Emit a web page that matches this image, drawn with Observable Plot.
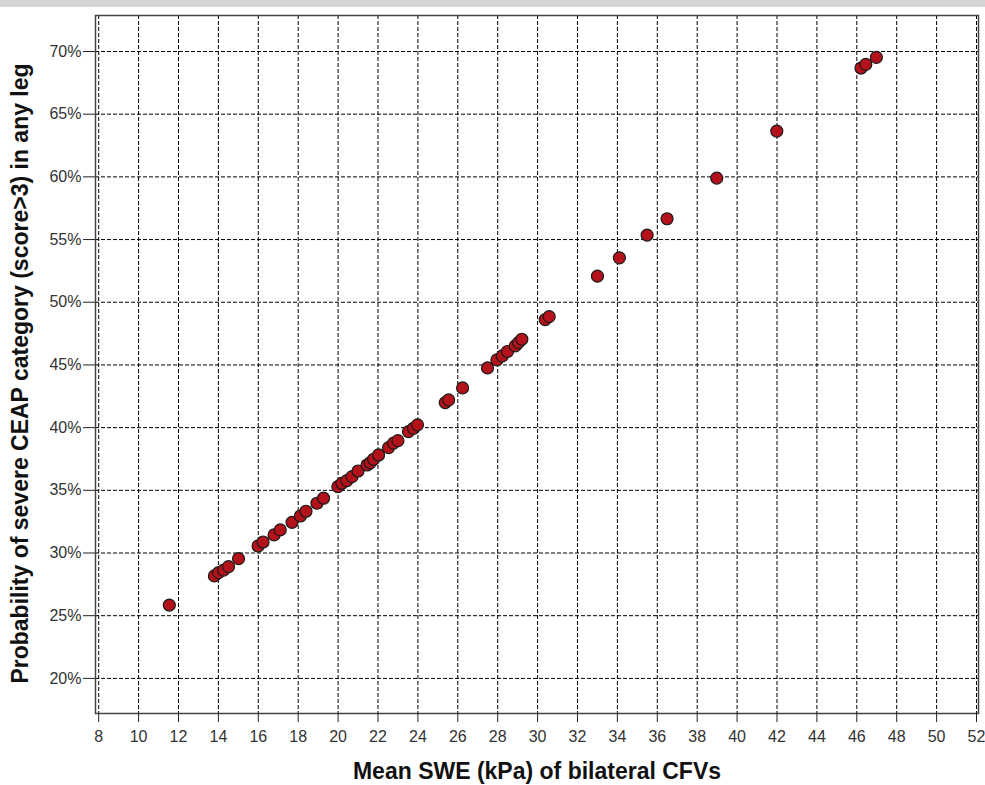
<!DOCTYPE html>
<html>
<head>
<meta charset="utf-8">
<script src="https://cdn.jsdelivr.net/npm/d3@7"></script>
<script src="https://cdn.jsdelivr.net/npm/@observablehq/plot@0.6"></script>
<style>
  html, body { margin: 0; padding: 0; background: #fff; }
  #wrap { position: relative; width: 985px; height: 785px; }
  #band { position: absolute; left: 0; top: 0; width: 985px; height: 7px; background: #d4d4d4; }
</style>
</head>
<body>
<div id="wrap"><div id="band"></div><div id="chart"></div></div>
<script>
// Mean SWE (kPa) of bilateral CFVs
const swe = [11.54, 13.80, 14.01, 14.26, 14.51, 15.01, 15.99, 16.24, 16.79, 17.10,
  17.69, 18.11, 18.39, 18.94, 19.27, 19.99, 20.19, 20.44, 20.70, 21.00,
  21.45, 21.61, 21.78, 22.03, 22.53, 22.78, 23.00, 23.53, 23.78, 23.98,
  25.37, 25.54, 26.24, 27.49, 27.96, 28.23, 28.49, 28.88, 29.04, 29.21,
  30.38, 30.58, 33.00, 34.10, 35.49, 36.49, 38.98, 41.99, 46.21, 46.45, 46.98];
// Probability of severe CEAP category (%)
const prob = [25.85, 28.17, 28.43, 28.64, 28.91, 29.55, 30.56, 30.88, 31.44, 31.84,
  32.45, 32.95, 33.33, 33.97, 34.37, 35.29, 35.56, 35.77, 36.09, 36.54,
  37.02, 37.20, 37.48, 37.82, 38.40, 38.76, 38.96, 39.68, 39.95, 40.22,
  42.00, 42.21, 43.17, 44.76, 45.40, 45.72, 46.07, 46.52, 46.78, 47.05,
  48.61, 48.85, 52.08, 53.54, 55.36, 56.66, 59.90, 63.65, 68.68, 68.97, 69.53];
const xTicks = [8, 10, 12, 14, 16, 18, 20, 22, 24, 26, 28, 30, 32, 34, 36, 38, 40, 42, 44, 46, 48, 50, 52];
const yTicks = [20, 25, 30, 35, 40, 45, 50, 55, 60, 65, 70];
const xTitle = "Mean SWE (kPa) of bilateral CFVs";
const yTitle = "Probability of severe CEAP category (score>3) in any leg";

const data = swe.map((x, i) => ({x, y: prob[i]}));
const font = "'Liberation Sans', Arial, sans-serif";

const chart = Plot.plot({
  width: 985,
  height: 785,
  marginLeft: 95,
  marginRight: 7,
  marginTop: 15,
  marginBottom: 72,
  style: {fontFamily: font, fontSize: "16px", color: "#333", background: "transparent"},
  x: {domain: [7.84, 52.1]},
  y: {domain: [17.2, 72.87]},
  marks: [
    Plot.gridX(xTicks, {stroke: "#000", strokeOpacity: 1, strokeWidth: 1, strokeDasharray: "4,2"}),
    Plot.gridY(yTicks, {stroke: "#000", strokeOpacity: 1, strokeWidth: 1, strokeDasharray: "4,2"}),
    Plot.frame({stroke: "#444", strokeWidth: 1.5}),
    Plot.axisX(xTicks, {tickSize: 9, tickPadding: 8, stroke: "#222", fill: "#333", fontSize: 16, label: null}),
    Plot.axisY(yTicks, {tickSize: 12, tickPadding: 2, stroke: "#222", fill: "#333", fontSize: 16, tickFormat: d => d + "%", label: null}),
    Plot.text([xTitle], {frameAnchor: "bottom", dy: 58, lineAnchor: "middle", textAnchor: "middle", text: d => d, fontSize: 23, fontWeight: "bold", fill: "#111", fontFamily: font}),
    Plot.text([yTitle], {frameAnchor: "left", dx: -75, dy: 9, rotate: -90, textAnchor: "middle", lineAnchor: "middle", text: d => d, fontSize: 23, fontWeight: "bold", fill: "#111", fontFamily: font}),
    Plot.dot(data, {x: "x", y: "y", r: 6, fill: "#b3121b", stroke: "#1a1a1a", strokeWidth: 1.2})
  ]
});
document.getElementById("chart").appendChild(chart);
</script>
</body>
</html>
